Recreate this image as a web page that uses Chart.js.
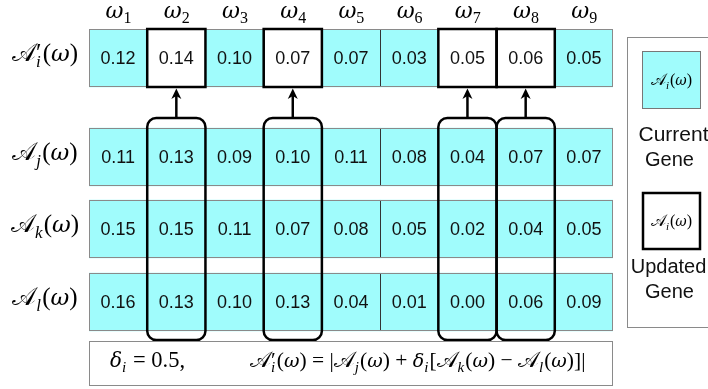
<!DOCTYPE html>
<html>
<head>
<meta charset="utf-8">
<script src="https://cdn.jsdelivr.net/npm/chart.js@4.4.0/dist/chart.umd.min.js"></script>
<style>
  html, body { margin: 0; padding: 0; background: #fff; overflow: hidden; }
  #wrap { width: 708px; height: 389px; position: relative; }
</style>
</head>
<body>
<div id="wrap"><canvas id="gene-chart"></canvas></div>
<script>
///// data /////
const omegaIdx = ['1', '2', '3', '4', '5', '6', '7', '8', '9'];
const geneI = [0.12, 0.14, 0.10, 0.07, 0.07, 0.03, 0.05, 0.06, 0.05];   // A'_i (updated)
const geneJ = [0.11, 0.13, 0.09, 0.10, 0.11, 0.08, 0.04, 0.07, 0.07];
const geneK = [0.15, 0.15, 0.11, 0.07, 0.08, 0.05, 0.02, 0.04, 0.05];
const geneL = [0.16, 0.13, 0.10, 0.13, 0.04, 0.01, 0.00, 0.06, 0.09];
const updatedCols = [1, 3, 6, 7];
const deltaI = '0.5';

///// layout (y units = px below chart top) /////
const rowBands = [[0, 58], [99, 157], [171, 229], [244, 302]];
const formulaBand = [312, 357];
const linkBand = [89, 311];
const CYAN = '#a0fcfc';

const SERIF = '"Liberation Serif", "DejaVu Serif", serif';
const DSERIF = '"DejaVu Serif", "Liberation Serif", serif';
const SANS = '"Liberation Sans", Arial, sans-serif';
const SCRIPT_A = '\u{1D49C}';

// tiny math typesetter: tokens [text, kind]
function mathFont(kind, s) {
  if (kind === 'A') return `${s}px "DejaVu Sans", "DejaVu Serif", ${SERIF}`;
  if (kind === 'v') return `italic ${Math.round(s * 0.9)}px ${DSERIF}`;
  if (kind === 'r') return `${s}px ${SERIF}`;
  if (kind === 'sub' || kind === 'subsup') return `italic ${Math.round(s * 0.68)}px ${SERIF}`;
  if (kind === 'rsub') return `${Math.round(s * 0.68)}px ${SERIF}`;
  return `${s}px ${SERIF}`;
}
function tokWidth(ctx, t, s) {
  ctx.font = mathFont(t[1], s);
  if (t[1] === 'subsup') {
    const a = ctx.measureText(t[0]).width;
    ctx.font = `${s}px ${SERIF}`;
    const b = ctx.measureText('\u2032').width;
    return Math.max(a, b) + s * 0.05;
  }
  return ctx.measureText(t[0]).width + (t[1] === 'sub' || t[1] === 'rsub' ? s * 0.05 : 0);
}
function drawMath(ctx, toks, x, base, s, align) {
  let w = 0;
  toks.forEach(t => { w += tokWidth(ctx, t, s); });
  let cx = align === 'center' ? x - w / 2 : x;
  ctx.save();
  ctx.fillStyle = '#000';
  ctx.textAlign = 'left';
  ctx.textBaseline = 'alphabetic';
  toks.forEach(t => {
    const tw = tokWidth(ctx, t, s);
    ctx.font = mathFont(t[1], s);
    if (t[1] === 'sub' || t[1] === 'rsub') {
      ctx.fillText(t[0], cx, base + s * 0.22);
    } else if (t[1] === 'subsup') {
      ctx.fillText(t[0], cx, base + s * 0.25);
      ctx.font = `${s}px ${SERIF}`;
      ctx.fillText('\u2032', cx, base - s * 0.02);
    } else {
      ctx.fillText(t[0], cx, base);
    }
    cx += tw;
  });
  ctx.restore();
}
const geneLabel = (sub, prime) => [[SCRIPT_A, 'A'], [sub, prime ? 'subsup' : 'sub'], ['(', 'r'], ['\u03C9', 'v'], [')', 'r']];

const diagram = {
  id: 'diagram',
  afterDatasetsDraw(chart) {
    const { ctx, chartArea, scales: { x, y } } = chart;
    const n = omegaIdx.length;
    const cw = x.width / n;
    const colL = i => x.getPixelForValue(i) - cw / 2;
    const rows = [geneI, geneJ, geneK, geneL];
    const rowNames = [['i', true], ['j', false], ['k', false], ['l', false]];

    // cell grid + values
    rows.forEach((vals, r) => {
      const t = y.getPixelForValue(rowBands[r][0]);
      const b = y.getPixelForValue(rowBands[r][1]);
      ctx.save();
      ctx.strokeStyle = '#333';
      ctx.lineWidth = 1;
      for (let i = 1; i < n; i++) {
        const px = Math.round(colL(i)) + 0.5;
        ctx.beginPath(); ctx.moveTo(px, t); ctx.lineTo(px, b); ctx.stroke();
      }
      ctx.strokeStyle = '#8a8a8a';
      ctx.strokeRect(Math.round(chartArea.left) + 0.5, Math.round(t) + 0.5, Math.round(chartArea.width) - 1, Math.round(b - t) - 1);
      ctx.fillStyle = '#111';
      ctx.font = `18px ${SANS}`;
      ctx.textAlign = 'center';
      ctx.textBaseline = 'middle';
      vals.forEach((v, i) => ctx.fillText(v.toFixed(2), x.getPixelForValue(i), (t + b) / 2 + 1));
      ctx.restore();
      drawMath(ctx, geneLabel(rowNames[r][0], rowNames[r][1]), 45, (t + b) / 2 + 3, 25, 'center');
    });

    // omega headers
    omegaIdx.forEach((k, i) => {
      drawMath(ctx, [['\u03C9', 'v'], [k, 'rsub']], x.getPixelForValue(i) + 1, y.getPixelForValue(-11), 24, 'center');
    });

    ctx.save();
    ctx.strokeStyle = '#000';
    ctx.fillStyle = '#000';
    ctx.lineWidth = 2.5;
    updatedCols.forEach(i => {
      const l = colL(i), cx = x.getPixelForValue(i);
      // updated cell box
      const t0 = y.getPixelForValue(rowBands[0][0]), b0 = y.getPixelForValue(rowBands[0][1]);
      ctx.strokeRect(l, t0, cw, b0 - t0);
      // rounded link box
      const lt = y.getPixelForValue(linkBand[0]), lb = y.getPixelForValue(linkBand[1]);
      ctx.beginPath();
      ctx.roundRect(l, lt, cw, lb - lt, 9);
      ctx.stroke();
      // arrow
      ctx.beginPath();
      ctx.moveTo(cx, lt);
      ctx.lineTo(cx, b0 + 8);
      ctx.stroke();
      ctx.beginPath();
      ctx.moveTo(cx, b0 + 1.5);
      ctx.lineTo(cx - 5, b0 + 12);
      ctx.lineTo(cx, b0 + 9);
      ctx.lineTo(cx + 5, b0 + 12);
      ctx.closePath();
      ctx.fill();
    });
    ctx.restore();

    // formula box
    const ft = y.getPixelForValue(formulaBand[0]), fb = y.getPixelForValue(formulaBand[1]);
    ctx.save();
    ctx.strokeStyle = '#8a8a8a';
    ctx.lineWidth = 1;
    ctx.strokeRect(Math.round(chartArea.left) + 0.5, Math.round(ft) + 0.5, Math.round(chartArea.width) - 1, Math.round(fb - ft) - 1);
    ctx.restore();
    const fBase = fb - 19;
    drawMath(ctx, [['\u03B4', 'v'], ['i', 'sub'], [' = ' + deltaI + ',', 'r']], chartArea.left + 21, fBase, 22.5, 'left');
    drawMath(ctx, [
      [SCRIPT_A, 'A'], ['i', 'subsup'], ['(', 'r'], ['\u03C9', 'v'], [') = |', 'r'],
      [SCRIPT_A, 'A'], ['j', 'sub'], ['(', 'r'], ['\u03C9', 'v'], [') + ', 'r'],
      ['\u03B4', 'v'], ['i', 'sub'], ['[', 'r'],
      [SCRIPT_A, 'A'], ['k', 'sub'], ['(', 'r'], ['\u03C9', 'v'], [') \u2212 ', 'r'],
      [SCRIPT_A, 'A'], ['l', 'sub'], ['(', 'r'], ['\u03C9', 'v'], [')]|', 'r']
    ], chartArea.left + 161, fBase, 21.5, 'left');

    // legend panel
    const L = chartArea.right + 14;
    const lt = y.getPixelForValue(8), lb = y.getPixelForValue(298);
    ctx.save();
    ctx.strokeStyle = '#8a8a8a';
    ctx.lineWidth = 1;
    ctx.strokeRect(Math.round(L) + 0.5, Math.round(lt) + 0.5, 120, Math.round(lb - lt));
    const sx = L + 15, sw = 59;
    const s1 = y.getPixelForValue(22), s2 = y.getPixelForValue(163);
    ctx.fillStyle = CYAN;
    ctx.fillRect(sx, s1, sw, 58);
    ctx.strokeStyle = '#777';
    ctx.strokeRect(sx + 0.5, s1 + 0.5, sw - 1, 57);
    ctx.fillStyle = '#fff';
    ctx.fillRect(sx, s2, sw, 58);
    ctx.strokeStyle = '#000';
    ctx.lineWidth = 2.5;
    ctx.strokeRect(sx + 1, s2 + 1, sw - 2, 56);
    ctx.fillStyle = '#111';
    ctx.textAlign = 'center';
    ctx.textBaseline = 'middle';
    const tc = sx + sw / 2 - 2;
    ctx.font = `21px ${SANS}`;
    ctx.fillText('Current', tc + 4, y.getPixelForValue(106));
    ctx.font = `20px ${SANS}`;
    ctx.fillText('Gene', tc, y.getPixelForValue(131));
    ctx.fillText('Updated', tc - 1, y.getPixelForValue(238));
    ctx.fillText('Gene', tc, y.getPixelForValue(263));
    ctx.restore();
    drawMath(ctx, geneLabel('i', false), sx + sw / 2, s1 + 34, 16, 'center');
    drawMath(ctx, geneLabel('i', false), sx + sw / 2, s2 + 34, 16, 'center');
  }
};

const data = {
  labels: omegaIdx,
  datasets: [geneI, geneJ, geneK, geneL].map((vals, r) => ({
    label: 'row' + r,
    data: vals.map(() => rowBands[r]),
    backgroundColor: vals.map((v, i) => (r === 0 && updatedCols.includes(i)) ? '#ffffff' : CYAN),
    borderWidth: 0,
    barPercentage: 1,
    categoryPercentage: 1,
    grouped: false
  }))
};

const config = {
  type: 'bar',
  data,
  options: {
    responsive: true,
    maintainAspectRatio: false,
    animation: false,
    layout: { padding: { left: 89, right: 95, top: 29, bottom: 3 } },
    plugins: { legend: { display: false }, tooltip: { enabled: false } },
    scales: {
      x: { display: false },
      y: { display: false, reverse: true, min: 0, max: 357 }
    }
  },
  plugins: [diagram]
};

let geneChart = new Chart(document.getElementById('gene-chart'), config);
</script>
</body>
</html>
